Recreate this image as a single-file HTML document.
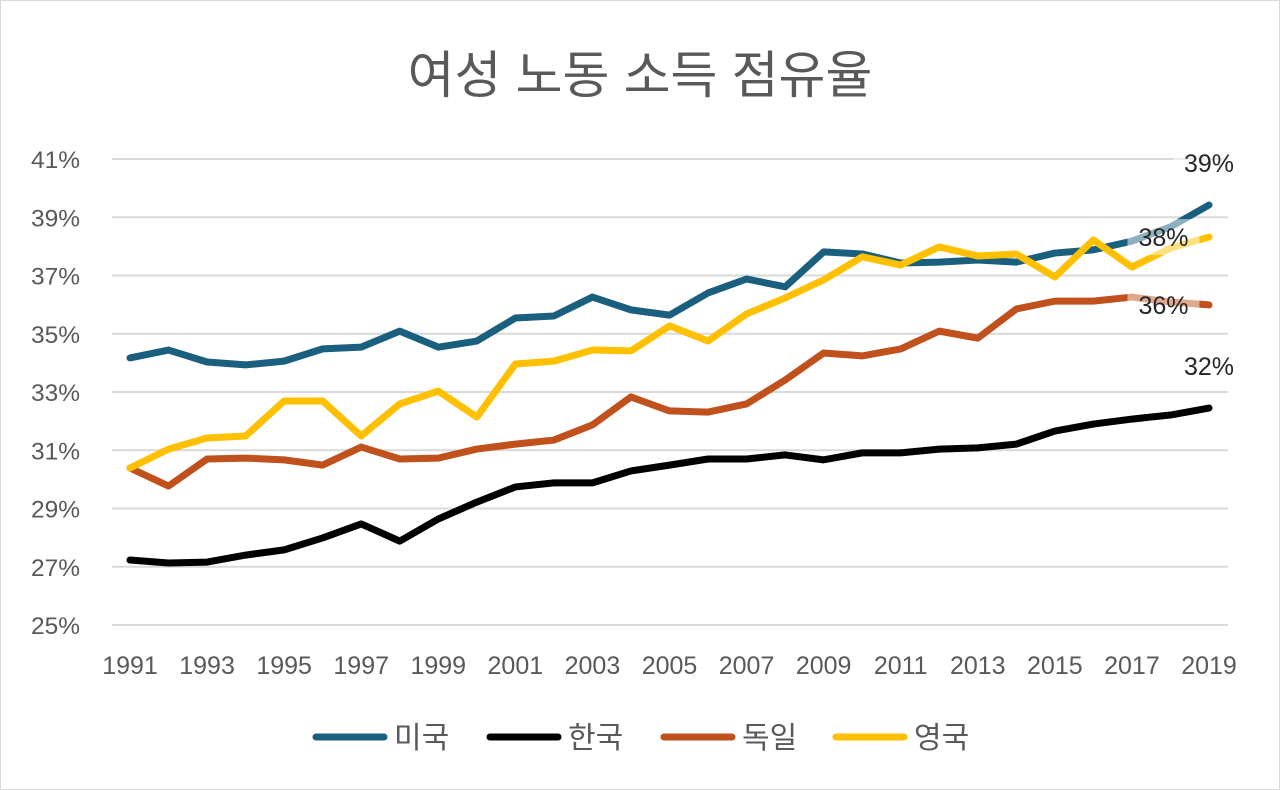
<!DOCTYPE html>
<html><head><meta charset="utf-8"><style>
body{margin:0;background:#fff}
svg{display:block;font-family:"Liberation Sans","Noto Sans CJK KR",sans-serif}
</style></head><body>
<svg id="chart" width="1280" height="790">
<rect x="0.5" y="0.5" width="1279" height="789" fill="#fff" stroke="#d9d9d9"/>
<text x="640" y="93" text-anchor="middle" font-size="51" fill="#595959">여성 노동 소득 점유율</text>
<g id="grid"></g><g id="series"></g><g id="labels"></g><g id="legend"></g>
</svg>
<script>
const years=[1991,1992,1993,1994,1995,1996,1997,1998,1999,2000,2001,2002,2003,2004,2005,2006,2007,2008,2009,2010,2011,2012,2013,2014,2015,2016,2017,2018,2019];
const usa=[34.17,34.44,34.03,33.93,34.06,34.48,34.54,35.09,34.54,34.75,35.54,35.61,36.26,35.82,35.64,36.40,36.88,36.61,37.81,37.74,37.43,37.46,37.53,37.46,37.77,37.88,38.18,38.67,39.42];
const korea=[27.23,27.13,27.16,27.40,27.58,27.99,28.47,27.88,28.64,29.22,29.74,29.88,29.88,30.29,30.49,30.70,30.70,30.84,30.67,30.91,30.91,31.04,31.08,31.21,31.66,31.90,32.07,32.21,32.45];
const germany=[30.39,29.77,30.70,30.73,30.67,30.49,31.11,30.70,30.73,31.04,31.21,31.35,31.87,32.83,32.35,32.31,32.59,33.41,34.34,34.24,34.48,35.09,34.85,35.85,36.12,36.12,36.26,36.09,35.99];
const uk=[30.39,31.04,31.42,31.49,32.69,32.69,31.49,32.59,33.03,32.14,33.96,34.06,34.44,34.41,35.27,34.75,35.68,36.23,36.85,37.64,37.36,37.98,37.67,37.74,36.95,38.22,37.29,37.94,38.32];
const yTicks=[25,27,29,31,33,35,37,39,41];
const xTickYears=[1991,1993,1995,1997,1999,2001,2003,2005,2007,2009,2011,2013,2015,2017,2019];
const seriesNames=["미국","한국","독일","영국"];
const seriesColors=["#1b5f7f","#000000","#c0501c","#ffc000"];
const endLabels=["39%","32%","36%","38%"];
const NS="http://www.w3.org/2000/svg";
const x=v=>130+(v-1991)*(1209-130)/28;
const y=v=>625-(v-25)*(625-159)/16;
function mk(tag,attrs,parent,text){const e=document.createElementNS(NS,tag);for(const k in attrs)e.setAttribute(k,attrs[k]);if(text!==undefined)e.textContent=text;parent.appendChild(e);return e;}
const grid=document.getElementById('grid');
yTicks.forEach(t=>{
  const l=mk('line',{x1:112,x2:1228,y1:y(t),y2:y(t),stroke:'#d9d9d9','stroke-width':2},grid);
  
  
  const tx=mk('text',{x:80,y:y(t)+9,'text-anchor':'end','font-size':24.5,fill:'#595959'},grid,t+'%');
  
  
});
xTickYears.forEach(t=>{
  const tx=mk('text',{x:x(t),y:674,'text-anchor':'middle','font-size':25,fill:'#595959'},grid,String(t));
  
  
});
const sg=document.getElementById('series');
const allData=[usa,korea,germany,uk];
allData.forEach((d,i)=>{
  const p=mk('polyline',{points:d.map((v,j)=>x(years[j])+','+y(v)).join(' '),fill:'none',stroke:seriesColors[i],'stroke-width':7,'stroke-linejoin':'round','stroke-linecap':'round'},sg);
  
  
});
const lg=document.getElementById('labels');
const lastIdx=years.length-1;
const labelPos=[[x(years[lastIdx]),y(usa[lastIdx])-42],[x(years[lastIdx]),y(korea[lastIdx])-42],[x(years[lastIdx-1])-7,y(germany[lastIdx])],[x(years[lastIdx-1])-7,y(uk[lastIdx])]];
[usa,korea,germany,uk].forEach((d,i)=>{
  const [cx,cy]=labelPos[i];
  const r=mk('rect',{x:cx-36,y:cy-18,width:72,height:36,fill:'#fff','fill-opacity':0.5},lg);
  
  
  const t=mk('text',{x:cx,y:cy+9,'text-anchor':'middle','font-size':25,fill:'#262626'},lg,endLabels[i]);
  
  
});
const leg=document.getElementById('legend');
const legX=[316,490,664,836];
seriesNames.forEach((n,i)=>{
  const g=mk('g',{},leg);
  
  
  mk('line',{x1:legX[i],x2:legX[i]+68,y1:737,y2:737,stroke:seriesColors[i],'stroke-width':7,'stroke-linecap':'round'},g);
  mk('text',{x:legX[i]+78,y:748,'font-size':30,fill:'#595959'},g,n);
});
</script>
</body></html>
